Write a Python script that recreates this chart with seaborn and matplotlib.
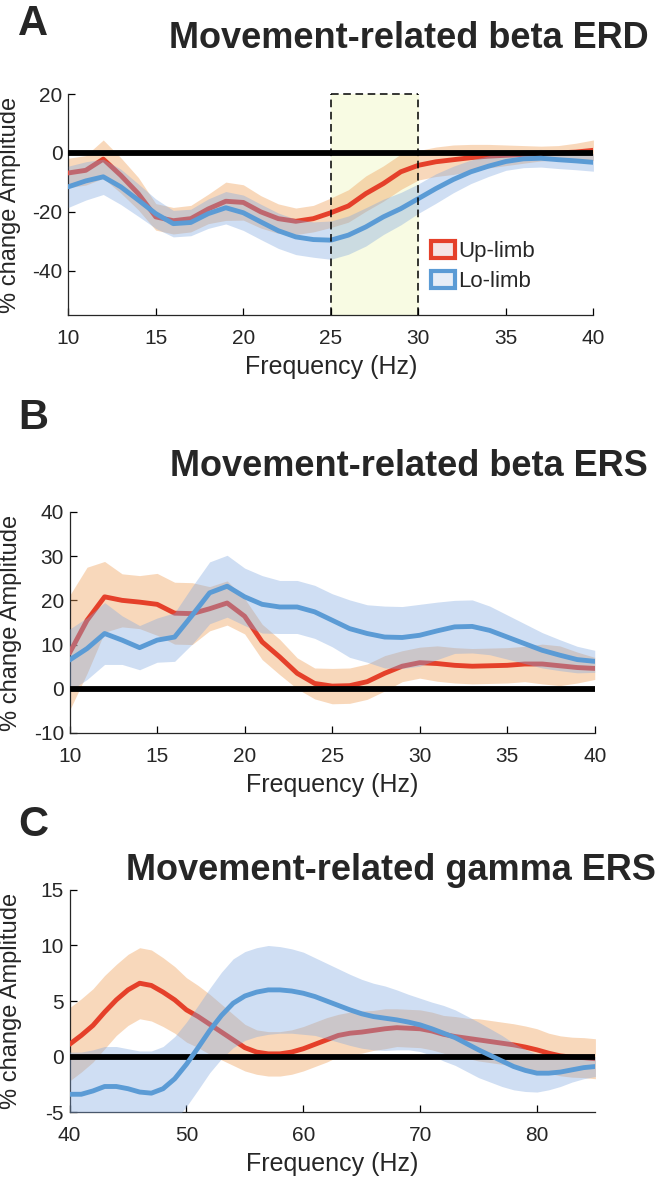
import numpy as np
import matplotlib
matplotlib.use("Agg")
import matplotlib.pyplot as plt
import seaborn as sns
from matplotlib.patches import Patch

# ---- data ----
freq_beta = list(range(10, 41))
freq_gamma = list(range(40, 86))

up_erd = [-6.8, -5.9, -2.1, -7.6, -13.8, -21.7, -23.0, -22.3, -19.0, -16.4, -16.8,
          -20.0, -22.3, -23.2, -22.3, -20.3, -18.0, -13.8, -10.4, -6.4, -4.2,
          -3.0, -2.3, -1.6, -1.1, -0.8, -0.5, -0.2, 0.0, 0.3, 0.9]
up_erd_sem = [5, 5, 6.5, 6, 5.5, 4.5, 4.5, 4.5, 5, 6.5, 6, 5.5, 5, 4.5, 4.5, 5,
              5.5, 6, 6, 6, 5, 5, 5, 4.5, 4, 3.5, 3, 2.5, 2.5, 3, 3.5]
lo_erd = [-11.5, -9.5, -8.1, -11.5, -16.0, -20.6, -24.0, -23.6, -20.6, -18.6, -20.3,
          -23.4, -26.4, -28.5, -29.4, -29.6, -27.9, -25.1, -21.7, -18.9, -15.5,
          -12.1, -9.0, -6.4, -4.5, -2.9, -2.0, -1.8, -2.3, -2.7, -3.2]
lo_erd_sem = [7, 6.5, 6, 6, 5.5, 5, 4.5, 4.5, 5, 5.5, 6, 6, 6, 6, 6, 6.5, 6.5,
              6.5, 6, 5.5, 5, 5, 4.5, 4, 3.5, 3, 3, 3, 3, 3, 3]

up_ers = [8.1, 15.5, 20.8, 20.0, 19.6, 19.1, 17.1, 17.0, 18.1, 19.4, 16.4, 10.6,
          7.2, 3.5, 1.2, 0.6, 0.7, 1.6, 3.5, 5.1, 5.9, 5.7, 5.3, 5.1, 5.2, 5.3,
          5.6, 5.6, 5.2, 4.8, 4.6]
up_ers_sem = [13, 12, 8, 6, 6, 7, 7, 7, 5, 5, 4, 4, 4, 3.5, 3.5, 4, 4, 4, 4, 3.5,
              3.5, 4, 4, 4, 4, 4, 4, 4.5, 4.5, 3.5, 2.5]
lo_ers = [6.5, 9.1, 12.5, 11.0, 9.3, 11.0, 11.7, 16.6, 21.7, 23.2, 20.8, 19.1,
          18.5, 18.5, 17.4, 15.5, 13.6, 12.5, 11.7, 11.6, 12.1, 13.1, 14.0, 14.1,
          13.2, 11.7, 10.2, 8.7, 7.6, 6.6, 6.2]
lo_ers_sem = [7, 7, 7, 5.5, 5, 5, 5.5, 6.5, 7, 7, 6.5, 6.5, 6, 6, 6, 6, 6.5,
              6.5, 7, 7, 7, 6.5, 6, 6, 5.5, 5, 4.5, 4, 3.5, 3, 2.5]

up_gam = [1.1, 1.9, 2.8, 4.0, 5.1, 6.0, 6.6, 6.4, 5.8, 5.1, 4.2, 3.6, 2.9, 2.2,
          1.5, 0.8, 0.4, 0.24, 0.24, 0.4, 0.7, 1.1, 1.5, 1.9, 2.1, 2.2, 2.35, 2.5,
          2.6, 2.55, 2.5, 2.3, 2.0, 1.8, 1.65, 1.5, 1.35, 1.2, 1.05, 0.85, 0.6,
          0.3, 0.06, -0.06, -0.1, -0.2]
up_gam_sem = [3.3, 3.3, 3.3, 3.3, 3.2, 3.2, 3.2, 3.2, 3.1, 3.0, 2.9, 2.8, 2.7, 2.5,
              2.3, 2.1, 2.0, 2.0, 2.0, 2.0, 2.0, 2.0, 2.0, 1.9, 1.9, 1.9, 1.8, 1.8,
              1.7, 1.7, 1.7, 1.7, 1.7, 1.8, 1.8, 1.9, 1.9, 1.9, 1.9, 1.9, 1.9, 1.8,
              1.8, 1.8, 1.8, 1.8]
lo_gam = [-3.4, -3.4, -3.1, -2.7, -2.7, -2.9, -3.2, -3.3, -2.9, -2.0, -0.7, 0.8,
          2.35, 3.7, 4.8, 5.45, 5.8, 6.0, 6.0, 5.9, 5.7, 5.4, 5.0, 4.6, 4.2, 3.85,
          3.6, 3.45, 3.3, 3.1, 2.85, 2.5, 2.1, 1.7, 1.15, 0.6, 0.1, -0.4, -0.9,
          -1.25, -1.5, -1.5, -1.4, -1.2, -1.0, -0.9]
lo_gam_sem = [3.8, 3.8, 3.7, 3.6, 3.6, 3.6, 3.7, 3.8, 3.8, 3.8, 3.8, 3.8, 3.8, 3.9,
              4.0, 4.0, 4.0, 4.0, 3.9, 3.8, 3.7, 3.5, 3.4, 3.3, 3.2, 3.1, 3.0, 2.9,
              2.7, 2.5, 2.4, 2.4, 2.5, 2.5, 2.5, 2.5, 2.4, 2.3, 2.1, 1.9, 1.7, 1.5,
              1.3, 1.1, 1.0, 0.9]

legend_labels = ["Up-limb", "Lo-limb"]
band_window = (25, 30)

# ---- style ----
RED, BLUE = "#e5402a", "#5b9bd5"
RED_FILL, BLUE_FILL = "#f0a35e", "#82a9e0"

sns.set_style("ticks")
FONT = ["Liberation Sans Narrow", "Liberation Sans", "DejaVu Sans"]
plt.rcParams["font.family"] = FONT
plt.rcParams["axes.linewidth"] = 0.9
plt.rcParams["axes.unicode_minus"] = False
plt.rcParams["xtick.direction"] = "in"
plt.rcParams["ytick.direction"] = "in"

fig = plt.figure(figsize=(6.69, 11.78), dpi=100)


def draw_panel(ax, freq, up, up_sem, lo, lo_sem, xlim, ylim, xticks, yticks):
    up, up_sem, lo, lo_sem = map(np.asarray, (up, up_sem, lo, lo_sem))
    ax.fill_between(freq, up - up_sem, up + up_sem, color=RED_FILL, alpha=0.42,
                    lw=0, zorder=2)
    sns.lineplot(x=freq, y=up, ax=ax, color=RED, lw=3.5, zorder=3)
    ax.fill_between(freq, lo - lo_sem, lo + lo_sem, color=BLUE_FILL, alpha=0.38,
                    lw=0, zorder=4)
    ax.axhline(0, color="black", lw=4.2, zorder=4.5)
    sns.lineplot(x=freq, y=lo, ax=ax, color=BLUE, lw=3.5, zorder=5)
    ax.set_xlim(*xlim)
    ax.set_ylim(*ylim)
    ax.set_xticks(xticks)
    ax.set_yticks(yticks)
    sns.despine(ax=ax)
    ax.tick_params(axis="both", labelsize=15, length=5, width=0.9, color="black")
    ax.tick_params(axis="x", pad=10)
    ax.tick_params(axis="y", pad=4)
    ax.set_xlabel("Frequency (Hz)", fontsize=18, labelpad=5)
    ax.set_ylabel("% change Amplitude", fontsize=17)
    ax.yaxis.set_label_coords(-0.09, 0.5)


axA = fig.add_axes([0.102, 0.7326, 0.785, 0.1876])
axB = fig.add_axes([0.104, 0.3778, 0.785, 0.1876])
axC = fig.add_axes([0.104, 0.0560, 0.786, 0.1885])

# highlighted beta window in panel A
axA.axvspan(*band_window, color="#f8fbe3", zorder=0)
draw_panel(axA, freq_beta, up_erd, up_erd_sem, lo_erd, lo_erd_sem,
           (10, 40), (-55, 20), range(10, 41, 5), [-40, -20, 0, 20])
for xv in band_window:
    axA.plot([xv, xv], [-55, 20], ls=(0, (5, 3)), color="black", lw=1.1, zorder=6)
axA.plot(band_window, [20, 20], ls=(0, (5, 3)), color="black", lw=1.1,
         zorder=6, clip_on=False)

draw_panel(axB, freq_beta, up_ers, up_ers_sem, lo_ers, lo_ers_sem,
           (10, 40), (-10, 40), range(10, 41, 5), range(-10, 41, 10))
draw_panel(axC, freq_gamma, up_gam, up_gam_sem, lo_gam, lo_gam_sem,
           (40, 85), (-5, 15), range(40, 81, 10), range(-5, 16, 5))

handles = [Patch(facecolor="#f5e4e4", edgecolor=RED, lw=3),
           Patch(facecolor="#e6edf7", edgecolor=BLUE, lw=3)]
axA.legend(handles, legend_labels, loc="upper left", bbox_to_anchor=(0.69, 0.335),
           frameon=False, fontsize=16, handlelength=1.1, handleheight=0.8,
           handletextpad=0.15, labelspacing=0.4, borderpad=0, borderaxespad=0)

# panel letters and titles
BOLD = ["Liberation Sans", "DejaVu Sans"]
for letter, ly, tx, ty, title in [
        ("A", 0.980, 0.611, 0.967, "Movement-related beta ERD"),
        ("B", 0.645, 0.611, 0.604, "Movement-related beta ERS"),
        ("C", 0.300, 0.585, 0.261, "Movement-related gamma ERS")]:
    fig.text(0.027, ly, letter, fontsize=30, fontweight="bold", family=BOLD,
             va="center", ha="left")
    fig.text(tx, ty, title, fontsize=26, fontweight="bold", family=BOLD,
             va="center", ha="center")

fig.savefig("out.png", dpi=100)
